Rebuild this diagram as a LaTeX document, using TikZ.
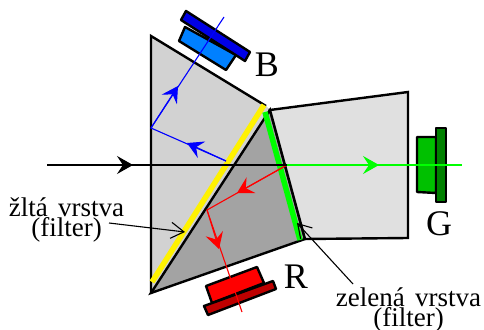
\documentclass[tikz,border=0pt]{standalone}
\usepackage{fontspec}
\setmainfont[WordSpace=1.5]{Liberation Serif}
\usetikzlibrary{arrows.meta,positioning,calc}
\tikzset{
  prism/.style={draw=black,line width=2.4pt,line join=miter},
  sensor/.style={draw=black,line width=2.4pt,line join=round},
  ray/.style={line width=1.1pt},
  raytip/.style={-{Stealth[inset=6pt,length=16pt,width=18pt]}},
  leadertip/.style={-{Straight Barb[length=13pt,width=16pt]}},
  biglabel/.style={font=\fontsize{36}{36}\selectfont,inner sep=0pt},
  smalllabel/.style={font=\fontsize{27}{18.5}\selectfont,align=center,inner sep=0pt},
}
\begin{document}
\begin{tikzpicture}[x=1pt,y=-1pt,>=latex]
  \useasboundingbox (0,0) rectangle (484,329);
  \coordinate (top) at (151,36);
  \coordinate (apex) at (266,106);
  \coordinate (foot) at (151,293);
  \coordinate (inner) at (268,113);
  \coordinate (rightup) at (270,110);
  \coordinate (rightdown) at (305,239);
  \coordinate (split) at (287,165);
  \coordinate (bouncered) at (207,210);
  \coordinate (bounceblue) at (151,128);
  \fill[gray!35] (top)--(apex)--(rightup)--(foot)--cycle;
  \filldraw[fill=gray!72,prism] (foot)--(inner)--(rightup)--(rightdown)--cycle;
  \filldraw[fill=black!12,prism] (rightup)--(408,92)--(408,238)--(rightdown)--cycle;
  \draw[prism] (foot)--(top)--(apex);
  \draw[yellow,line width=5.5pt] (152,282)--(264,105);
  \draw[green,line width=5.5pt] (265,112)--(300,240);
  \filldraw[fill={rgb,255:red,0;green,128;blue,255},sensor] (185,27)--(236,55)--(226,70)--(179,41)--cycle;
  \filldraw[fill={rgb,255:red,0;green,0;blue,230},sensor] (186,11)--(250,52)--(245,61)--(181,20)--cycle;
  \filldraw[fill=red,sensor] (206,286)--(257,267)--(264,283)--(212,303)--cycle;
  \filldraw[fill={rgb,255:red,190;green,0;blue,0},sensor] (204,306)--(273,281)--(276,289)--(208,315)--cycle;
  \filldraw[fill={rgb,255:red,0;green,192;blue,0},sensor] (417,137)--(436,137)--(436,193)--(417,192)--cycle;
  \filldraw[fill={rgb,255:red,0;green,128;blue,0},sensor] (436,128)--(446,128)--(446,202)--(436,202)--cycle;
  \draw[ray,blue] (224,17)--(bounceblue)--(226,161);
  \draw[ray,blue,raytip] (bounceblue)--(178,86);
  \draw[ray,blue,raytip] (226,161)--(187,143);
  \draw[ray,red] (split)--(bouncered)--(242,312);
  \draw[ray,red,raytip] (split)--(237,193);
  \draw[ray,red,raytip] (bouncered)--(219,249);
  \draw[ray,green] (split)--(462,165);
  \draw[ray,green,raytip] (split)--(379,165);
  \draw[ray,black] (47,165)--(split);
  \draw[ray,black,raytip] (47,165)--(133,165);
  \node[biglabel] (blabel) at (267,65) {B};
  \node[biglabel] (glabel) at (439,224) {G};
  \node[biglabel] (rlabel) at (296,277) {R};
  \node[smalllabel] (yellowlabel) at (66.5,220) {žltá vrstva\\(filter)};
  \node[smalllabel] (greenlabel) at (408.5,310) {zelená vrstva\\(filter)};
  \coordinate (yellowend) at (109,223);
  \coordinate (greenend) at (353,284);
  \draw[ray,black,leadertip] (yellowend)--(185,232);
  \draw[ray,black,leadertip] (greenend)--(297,223);
\end{tikzpicture}
\end{document}
